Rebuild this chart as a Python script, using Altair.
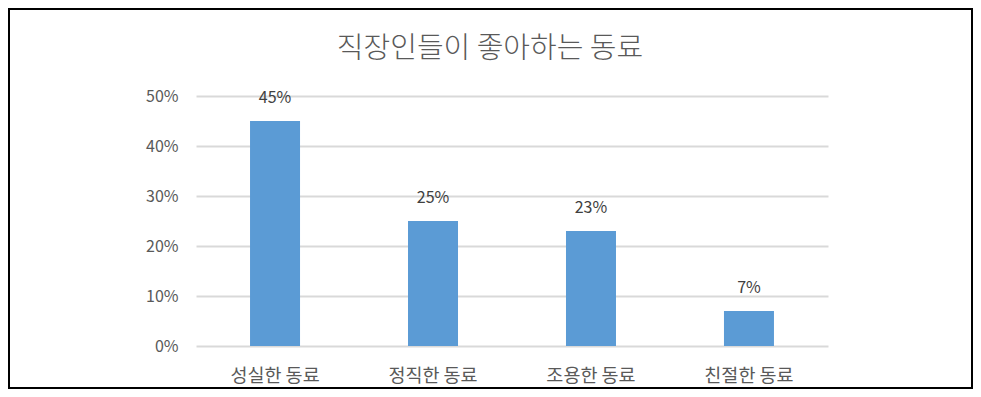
import altair as alt
import pandas as pd

categories = ["성실한 동료", "정직한 동료", "조용한 동료", "친절한 동료"]
values = [0.45, 0.25, 0.23, 0.07]
labels = ["45%", "25%", "23%", "7%"]
title_text = "직장인들이 좋아하는 동료"

df = pd.DataFrame({"cat": categories, "val": values, "lab": labels})

FONT = "Noto Sans CJK KR"
TXT = "#595959"

base = alt.Chart(df)

x = alt.X("cat:N", sort=categories, title=None,
          scale=alt.Scale(paddingInner=0.6835, paddingOuter=0.342),
          axis=alt.Axis(labelAngle=0, labelFontSize=18.5, labelColor=TXT, labelFont=FONT,
                        ticks=False, domain=False, labelPadding=20, grid=False))
y = alt.Y("val:Q", title=None,
          scale=alt.Scale(domain=[0, 0.5]),
          axis=alt.Axis(format=".0%", values=[0, 0.1, 0.2, 0.3, 0.4, 0.5],
                        labelFontSize=16, labelColor=TXT, labelFont=FONT,
                        ticks=False, domain=False, labelPadding=18,
                        gridColor="#D9D9D9", gridWidth=2))

bars = base.mark_bar(color="#5B9BD5").encode(x=x, y=y)
text = base.mark_text(baseline="bottom", dy=-15, fontSize=16, color="#404040", font=FONT).encode(
    x=alt.X("cat:N", sort=categories), y="val:Q", text="lab:N")

frame_df = pd.DataFrame({"t": [title_text]})
frame = alt.Chart(frame_df).mark_rect(fill=None, stroke="black", strokeWidth=2, clip=False).encode(
    x=alt.value(-187), x2=alt.value(776), y=alt.value(-87), y2=alt.value(292))
title = alt.Chart(frame_df).mark_text(fontSize=29, fontWeight=300, color=TXT,
                                      font=FONT, baseline="middle", align="center").encode(
    x=alt.value(294), y=alt.value(-47), text="t:N")

chart = alt.layer(frame, bars, text, title).properties(
    width=632, height=250,
    padding={"left": 188, "top": 88, "right": 145, "bottom": 43},
    autosize=alt.AutoSizeParams(type="none"),
    background="white",
).configure_view(stroke=None, strokeWidth=0)

chart.save("out.html", embed_options={"renderer": "svg", "actions": False})
